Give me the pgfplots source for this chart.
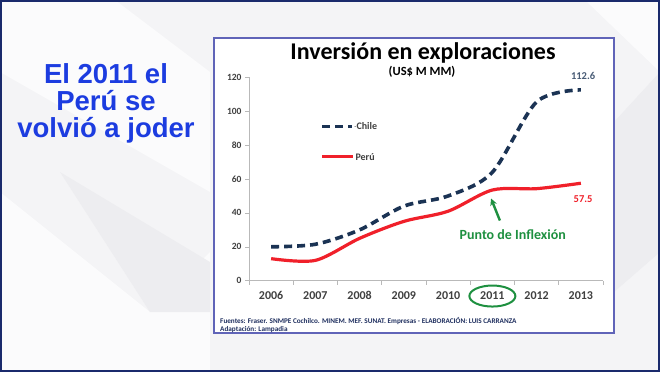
\documentclass[border=0pt]{standalone}
\usepackage{pgfplots}
\pgfplotsset{compat=1.18}
\usepackage{fontspec}
\setmainfont{Carlito}
\newfontfamily\headfont{Liberation Sans}
\usetikzlibrary{arrows.meta}
\definecolor{bgcol}{HTML}{F4F4F6}
\definecolor{bglight}{HTML}{FBFBFC}
\definecolor{bgdark}{HTML}{EDEDF0}
\definecolor{framecol}{HTML}{1A2A6C}
\definecolor{panelcol}{HTML}{6064B8}
\definecolor{headblue}{HTML}{1C3CE0}
\definecolor{chilecol}{HTML}{1B3354}
\definecolor{perucol}{HTML}{F0202A}
\definecolor{greencol}{HTML}{1E9040}
\definecolor{tickcol}{HTML}{404040}
\definecolor{notecol}{HTML}{1F2F5F}
\begin{document}
\begin{tikzpicture}[x=1bp,y=1bp]
% slide background
\fill[bgcol] (0,0) rectangle (660,372);
\fill[bglight] (0,372) -- (115,372) -- (210,300) -- (210,180) -- (0,300) -- cycle;
\fill[bglight] (0,180) -- (150,60) -- (210,120) -- (210,0) -- (0,0) -- cycle;
\fill[bgdark] (60,200) -- (210,110) -- (210,60) -- (150,60) -- cycle;
\fill[bglight] (614,372) -- (585,372) -- (660,300) -- (660,372) -- cycle;
\fill[bgdark] (614,250) -- (660,300) -- (660,120) -- (614,80) -- cycle;
% left headline
\node[headblue, align=center, font=\headfont\bfseries\fontsize{27.5bp}{27bp}\selectfont]
  at (106,269) {El 2011 el\\Perú se\\volvió a joder};
% chart panel
\fill[white] (214,39) rectangle (614,334);
\draw[panelcol, line width=1.6bp] (214,39) rectangle (614,334);
% title
\node[inner sep=0pt, anchor=base, font=\bfseries\fontsize{24bp}{26bp}\selectfont, black] at (423,313) {Inversión en exploraciones};
\node[inner sep=0pt, anchor=base, font=\bfseries\fontsize{12.5bp}{14bp}\selectfont, black] at (422,297) {(US\$ M MM)};
% footnote
\node[anchor=west, inner sep=0pt, font=\bfseries\fontsize{7.2bp}{7bp}\selectfont, notecol] at (220,50.5) {Fuentes: Fraser. SNMPE Cochilco. MINEM. MEF. SUNAT. Empresas - ELABORACIÓN: LUIS CARRANZA};
\node[anchor=west, inner sep=0pt, font=\bfseries\fontsize{7.2bp}{7bp}\selectfont, notecol] at (220,42) {Adaptación: Lampadia};
\begin{axis}[
  at={(249bp,91.3bp)}, anchor=south west,
  scale only axis, width=354bp, height=203.4bp,
  xmin=-0.5, xmax=7.5, ymin=0, ymax=120,
  axis x line=bottom, axis y line=left,
  axis line style={draw=gray!55, -, line width=0.6bp},
  tick style={draw=gray!55, line width=0.6bp},
  tick align=outside, major tick length=4bp, minor tick length=4bp,
  xtick={0,...,7}, xticklabels={2006,2007,2008,2009,2010,2011,2012,2013},
  major x tick style={draw=none},
  minor xtick={-0.5,0.5,...,7.5},
  ytick={0,20,...,120},
  xticklabel style={font=\bfseries\fontsize{12bp}{13bp}\selectfont, text=tickcol, yshift=-3bp},
  yticklabel style={font=\bfseries\fontsize{9.5bp}{11bp}\selectfont, text=tickcol},
  /pgf/number format/assume math mode=true,
  clip=false,
]
\addplot[chilecol, line width=3.6bp, dash pattern=on 8bp off 5bp, smooth]
  coordinates {(0,20)(1,21.5)(2,30)(3,44)(4,50)(5,64)(6,105.5)(7,112.6)};
\addplot[perucol, line width=3.2bp, smooth]
  coordinates {(0,13)(1,12)(2,25)(3,35)(4,41)(5,53.5)(6,54.3)(7,57.5)};
% legend
\draw[chilecol, line width=3.6bp, dash pattern=on 8bp off 5bp] (axis cs:1.15,91) -- (axis cs:1.82,91);
\node[anchor=west, font=\bfseries\fontsize{10bp}{10bp}\selectfont, tickcol, inner sep=1bp] at (axis cs:1.84,91) {$\cdot$Chile};
\draw[perucol, line width=3.2bp] (axis cs:1.15,73.2) -- (axis cs:1.85,73.2);
\node[anchor=west, font=\bfseries\fontsize{10bp}{10bp}\selectfont, tickcol, inner sep=1bp] at (axis cs:1.88,73.2) {Perú};
% value labels
\node[font=\bfseries\fontsize{10.5bp}{11bp}\selectfont, chilecol!80] at (axis cs:7.05,120.5) {112.6};
\node[font=\bfseries\fontsize{10.5bp}{11bp}\selectfont, perucol] at (axis cs:7.05,48.3) {57.5};
% annotation
\node[font=\bfseries\fontsize{14bp}{14bp}\selectfont, greencol] at (axis cs:5.46,27) {Punto de Inflexión};
\draw[greencol, line width=2.4bp, -{Stealth[length=7bp,width=7bp]}] (axis cs:5.17,35.5) -- (axis cs:4.97,48.5);
\draw[greencol, line width=2bp] (axis cs:5,-9.05) ellipse [x radius=23bp, y radius=10.5bp];
\end{axis}
% outer frame
\draw[framecol, line width=2bp] (1,1) rectangle (659,371);
\end{tikzpicture}
\end{document}
